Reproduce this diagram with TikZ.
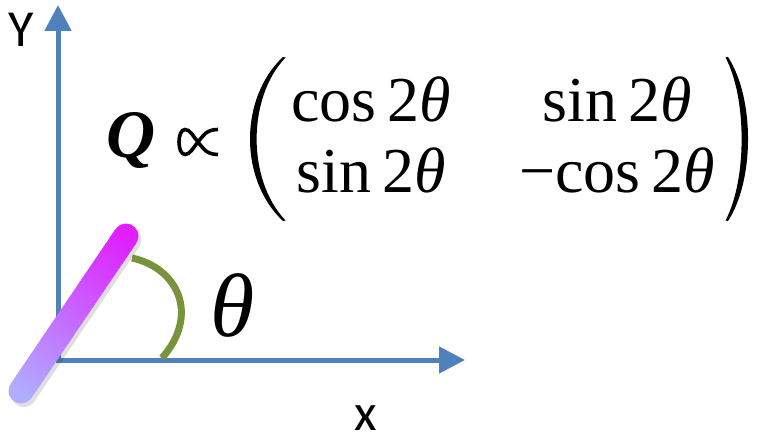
\documentclass[tikz,border=0pt]{standalone}
\usepackage{fontspec}
\setmainfont{Liberation Serif}
\newfontfamily\labfont{Carlito}
\usetikzlibrary{arrows.meta,calc}
\definecolor{axisblue}{HTML}{4F81BD}
\definecolor{arcgreen}{HTML}{77933C}
\definecolor{rodtop}{HTML}{E01EFF}
\definecolor{rodbot}{HTML}{B0ACFF}
\begin{document}
\begin{tikzpicture}[x=1pt,y=1pt,
  axisarrow/.style={draw=axisblue, line width=5pt, -{Triangle[length=26pt,width=26pt]}},
  axlabel/.style={font=\labfont\fontsize{52}{52}\selectfont, inner sep=0pt},
  mtext/.style={font=\fontsize{64}{64}\selectfont, anchor=base, inner sep=0pt},
  paren/.style={fill=black}]
\useasboundingbox (0,0) rectangle (763,437);
% axes
\coordinate (ybase) at (58,74.5);
\coordinate (ytip) at (58,432);
\coordinate (xbase) at (55.5,77);
\coordinate (xtip) at (465,77);
\draw[axisarrow] (ybase) -- (ytip);
\draw[axisarrow] (xbase) -- (xtip);
\node[axlabel] (ylab) at (21,407) {Y};
\node[axlabel] (xlab) at (366,19) {x};
% angle arc
\coordinate (arcA) at (132,179);
\coordinate (arcB) at (162,79);
\draw[arcgreen, line width=7pt] (arcA) .. controls (178,169) and (200,122) .. (arcB);
% rod shadow and rod
\coordinate (rodA) at (21,46);
\coordinate (rodB) at (126,201);
\draw[black, opacity=0.13, line width=25pt, line cap=round] ([shift={(3,-3.5)}]rodA) -- ([shift={(3,-3.5)}]rodB);
\fill[rodbot] (rodA) circle[radius=12.5pt];
\fill[rodtop] (rodB) circle[radius=12.5pt];
\foreach \i in {0,...,59}{
  \pgfmathsetmacro{\ta}{\i/60}
  \pgfmathsetmacro{\tb}{min((\i+1.6)/60,1)}
  \pgfmathsetmacro{\pc}{100*(\i+0.5)/60}
  \colorlet{segcol}{rodtop!\pc!rodbot}
  \draw[segcol, line width=25pt] ($(rodA)!\ta!(rodB)$) -- ($(rodA)!\tb!(rodB)$);
}
% theta label
\node[font=\fontsize{90}{90}\selectfont\itshape, inner sep=0pt] (theta) at (233,132) {θ};
% Q and propto (drawn)
\node[anchor=base, inner sep=0pt, font=\fontsize{68}{68}\selectfont\bfseries\itshape] (Q) at (131,279) {Q};
\draw[black, line width=3.6pt]
  (218,307.5) .. controls (206,307.5) and (203,301) .. (198,295)
  .. controls (193,289) and (190,282.5) .. (185,282.5)
  .. controls (177,282.5) and (177,307.5) .. (185,307.5)
  .. controls (190,307.5) and (193,301) .. (198,295)
  .. controls (203,289) and (206,282.5) .. (218,282.5);
% matrix entries
\node[mtext] (m11) at (371,315) {cos\hspace{0.17em}2\textit{θ}};
\node[mtext] (m12) at (617,315) {sin\hspace{0.17em}2\textit{θ}};
\node[mtext] (m21) at (371,244) {sin\hspace{0.17em}2\textit{θ}};
\node[mtext] (m22) at (617,244) {−cos\hspace{0.17em}2\textit{θ}};
% parentheses
\fill[paren] (283,380) .. controls (239,339) and (239,257) .. (283,216)
  -- (285.5,216.5) .. controls (247,257) and (247,339) .. (285.5,379.5) -- cycle;
\fill[paren] (728,380) .. controls (754.7,339) and (754.7,257) .. (728,216)
  -- (725.5,216.5) .. controls (747,257) and (747,339) .. (725.5,379.5) -- cycle;
\end{tikzpicture}
\end{document}
